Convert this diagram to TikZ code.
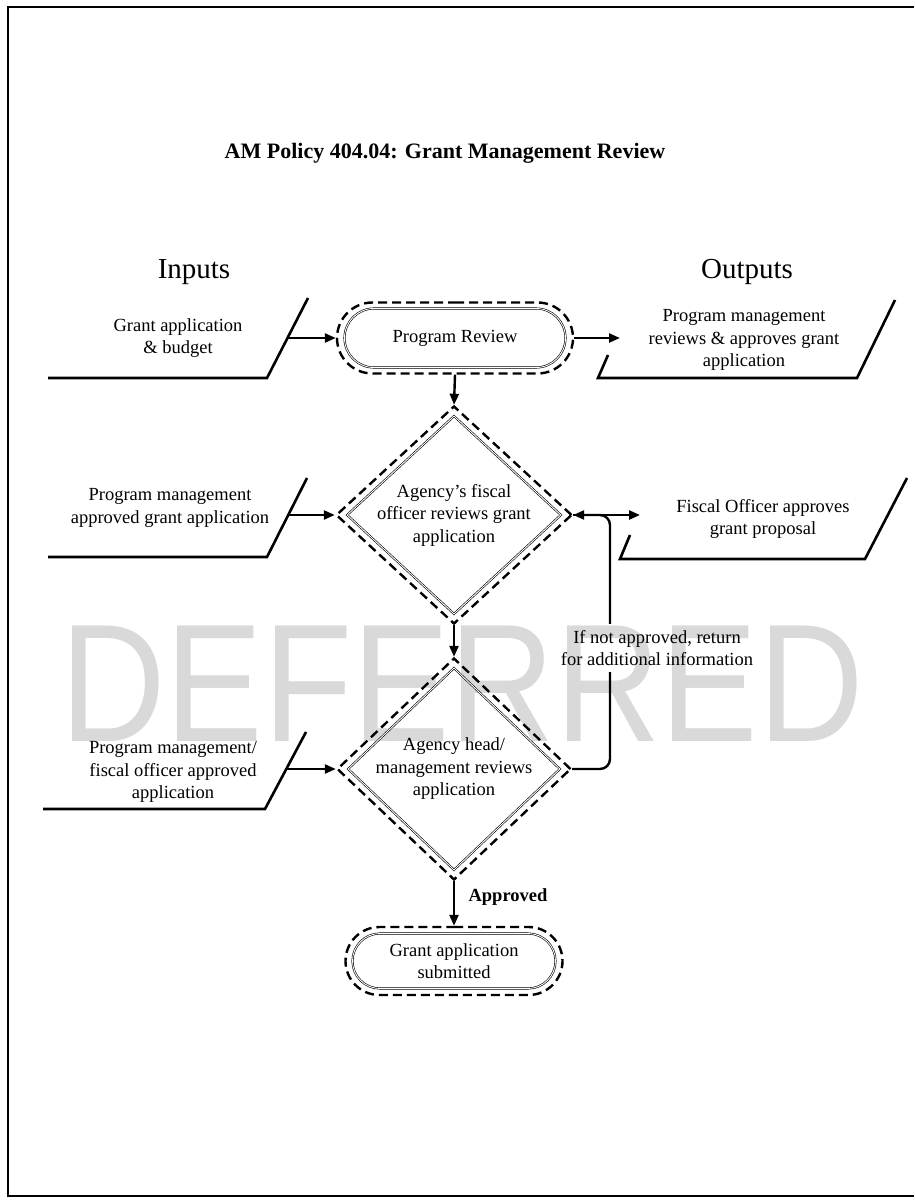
\documentclass[tikz,border=0pt]{standalone}
\usepackage{fontspec}
\setmainfont{Liberation Serif}
\newfontfamily\wmfont{Liberation Sans}
\usetikzlibrary{shapes.geometric,shapes.misc,arrows.meta,calc}
\tikzset{
  txt/.style={align=center,inner sep=0pt,font=\fontsize{18.5}{22.5}\selectfont},
  ioline/.style={line width=2.6pt,line join=miter},
  flow/.style={line width=2.4pt,-{Triangle[length=11pt,width=9pt]}},
  dashout/.style={draw,line width=2.4pt,dash pattern=on 9pt off 5pt},
  thinin/.style={draw,line width=0.6pt,double,double distance=0.9pt},
  stadium/.style={rounded rectangle,inner sep=0pt},
  decision/.style={diamond,inner sep=0pt}
}
\begin{document}
\begin{tikzpicture}[x=1pt,y=-1pt]
        \useasboundingbox (0,0) rectangle (914,1201);
        \node[text=black!15,inner sep=0pt,font=\wmfont\fontsize{168}{168}\selectfont] (wm) at (462,684) {\scalebox{0.87}[1]{DEFERRED}};
        \draw[line width=2pt] (914,7) -- (7.5,7) -- (7.5,1196) -- (914,1196);
        \node[font=\bfseries\fontsize{22}{26}\selectfont] (title) at (445,153) {AM Policy 404.04: Grant Management Review};
        \node[font=\fontsize{29}{34}\selectfont] (inputs) at (194,272) {Inputs};
        \node[font=\fontsize{29}{34}\selectfont] (outputs) at (747,272) {Outputs};
        % process nodes
        \node[stadium,dashout,minimum width=236pt,minimum height=71pt] (pr) at (455,338) {};
        \node[stadium,thinin,minimum width=221pt,minimum height=59pt,txt] (prin) at (pr) {Program Review};
        \node[decision,dashout,minimum width=236pt,minimum height=218pt] (d1) at (454,515) {};
        \node[decision,thinin,minimum width=214pt,minimum height=198pt] (d1in) at (d1) {};
        \node[txt] (d1txt) at (d1) {Agency's fiscal\\officer reviews grant\\application};
        \node[decision,dashout,minimum width=234pt,minimum height=222pt] (d2) at (454,769) {};
        \node[decision,thinin,minimum width=212pt,minimum height=202pt] (d2in) at (d2) {};
        \node[txt] (d2txt) at (d2) {Agency head/\\management reviews\\application};
        \node[stadium,dashout,minimum width=217pt,minimum height=68pt] (gs) at (454,961) {};
        \node[stadium,thinin,minimum width=203pt,minimum height=55pt,txt] (gsin) at (gs) {Grant application\\submitted};
        % inputs
        \draw[ioline] (48,378) -- (267,378) -- (308,298);
        \node[txt] (in1txt) at (178,338) {Grant application\\\& budget};
        \coordinate (in1) at (288,338);
        \draw[ioline] (48,557) -- (267,557) -- (307,478);
        \node[txt] (in2txt) at (170,508) {Program management\\approved grant application};
        \coordinate (in2) at (288,515);
        \draw[ioline] (43,809) -- (265,809) -- (306,732);
        \node[txt] (in3txt) at (173,772) {Program management/\\fiscal officer approved\\application};
        \coordinate (in3) at (286,769);
        % outputs
        \draw[ioline] (608,355) -- (598,378) -- (857,378) -- (895,300);
        \node[txt] (out1txt) at (744,340) {Program management\\reviews \& approves grant\\application};
        \coordinate (out1) at (620,338);
        \draw[ioline] (630,535) -- (620,559) -- (865,559) -- (907,478);
        \node[txt] (out2txt) at (763,519) {Fiscal Officer approves\\grant proposal};
        \coordinate (out2) at (640,515);
        % connectors
        \draw[flow] (in1) -- (pr.west);
        \draw[flow] (pr.east) -- (out1);
        \draw[flow] (pr.south) -- (d1.north);
        \draw[flow] (in2) -- (d1.west);
        \draw[flow] (d1.east) -- (out2);
        \draw[flow] (d1.south) -- (d2.north);
        \draw[flow] (in3) -- (d2.west);
        \draw[flow] (d2.south) -- (gs.north);
        \node[font=\bfseries\fontsize{18.5}{22}\selectfont] (appr) at (508,897) {Approved};
        % return loop
        \node[txt] (ret) at (657,648) {If not approved, return\\for additional information};
        \coordinate (lp) at (610,515);
        \coordinate (gapa) at ($(ret.south -| lp)+(0,6)$);
        \coordinate (gapb) at ($(ret.north -| lp)+(0,-6)$);
        \draw[line width=2.4pt,rounded corners=10pt] (d2.east) -| (gapa);
        \draw[flow,rounded corners=10pt] (gapb) -- (lp) -- (d1.east);
    \end{tikzpicture}
\end{document}
